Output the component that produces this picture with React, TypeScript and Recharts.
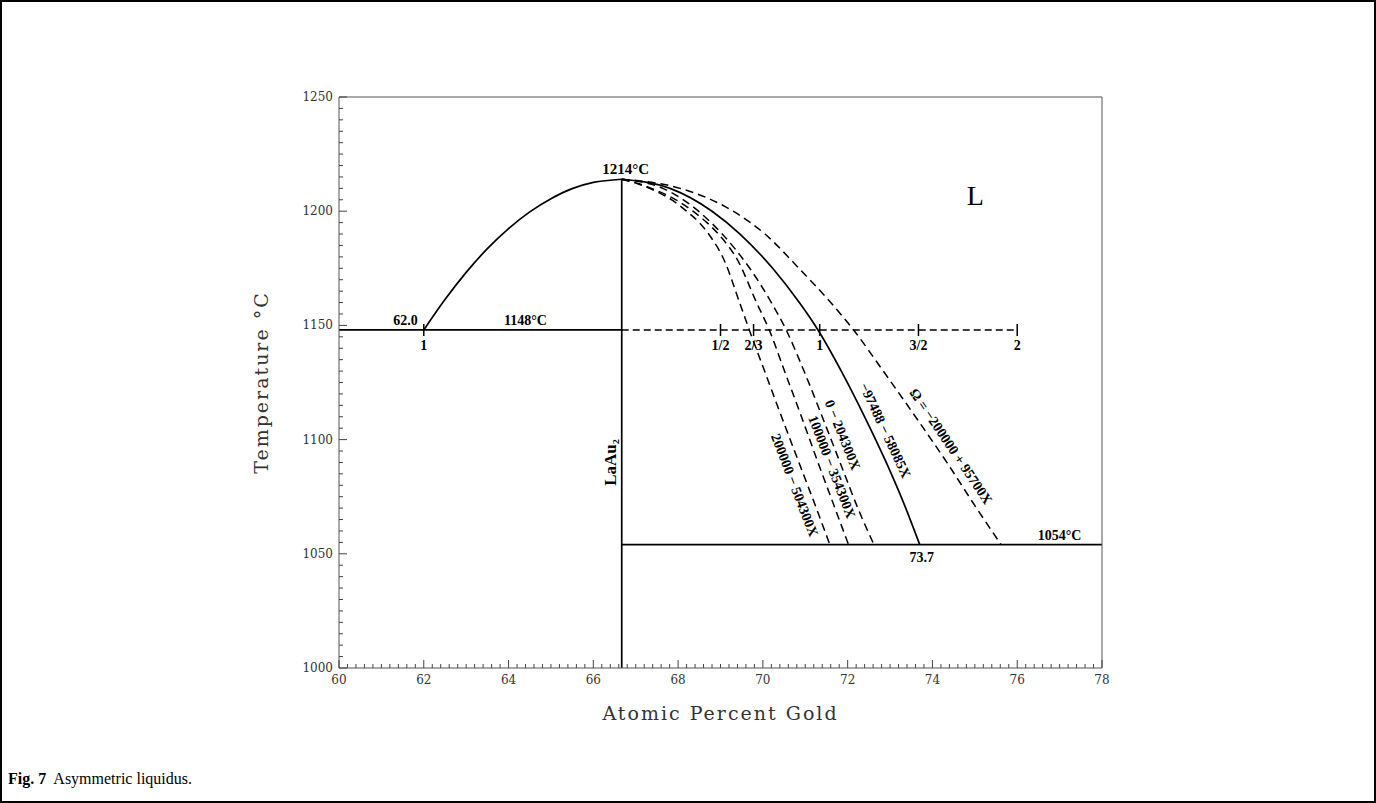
import { ComposedChart, Line, XAxis, YAxis, ReferenceDot } from 'recharts';

// axis labels
const xMajor = [60, 62, 64, 66, 68, 70, 72, 74, 76, 78];
const yMajor = [1000, 1050, 1100, 1150, 1200, 1250];

// liquidus on the La-rich side of LaAu2
const leftLiquidus = [
  { x: 62.0, t: 1148 }, { x: 62.5, t: 1161.3 }, { x: 63.0, t: 1173.2 }, { x: 63.5, t: 1183.6 },
  { x: 64.0, t: 1192.4 }, { x: 64.5, t: 1199.7 }, { x: 65.0, t: 1205.5 }, { x: 65.5, t: 1209.9 },
  { x: 66.0, t: 1212.6 }, { x: 66.67, t: 1214 },
];

// Au-rich side, assessed curve
const solidRight = [
  { x: 66.67, t: 1214 }, { x: 67.81, t: 1210 }, { x: 68.8, t: 1200 }, { x: 69.46, t: 1190 },
  { x: 70.23, t: 1175 }, { x: 70.86, t: 1160 }, { x: 71.3, t: 1148 }, { x: 71.85, t: 1130 },
  { x: 72.4, t: 1110 }, { x: 72.91, t: 1090 }, { x: 73.37, t: 1070 }, { x: 73.7, t: 1054 },
];

// trial interaction parameters
const dashA = [
  { x: 66.67, t: 1214 }, { x: 67.05, t: 1212 }, { x: 67.45, t: 1209 }, { x: 67.85, t: 1205 },
  { x: 68.2, t: 1200 }, { x: 68.5, t: 1195 }, { x: 68.72, t: 1190 }, { x: 69.1, t: 1178 },
  { x: 69.45, t: 1160 }, { x: 69.68, t: 1148 }, { x: 70.04, t: 1130 }, { x: 70.44, t: 1110 },
  { x: 70.85, t: 1090 }, { x: 71.26, t: 1070 }, { x: 71.58, t: 1054 },
];
const dashB = [
  { x: 66.67, t: 1214 }, { x: 67.08, t: 1212 }, { x: 67.5, t: 1209 }, { x: 67.95, t: 1205 },
  { x: 68.35, t: 1200 }, { x: 68.68, t: 1195 }, { x: 68.95, t: 1190 }, { x: 69.42, t: 1178 },
  { x: 69.85, t: 1160 }, { x: 70.15, t: 1148 }, { x: 70.51, t: 1130 }, { x: 70.91, t: 1110 },
  { x: 71.3, t: 1090 }, { x: 71.7, t: 1070 }, { x: 72.02, t: 1054 },
];
const dashC = [
  { x: 66.67, t: 1214 }, { x: 67.64, t: 1210 }, { x: 68.48, t: 1200 }, { x: 69.04, t: 1190 },
  { x: 69.69, t: 1175 }, { x: 70.2, t: 1160 }, { x: 70.55, t: 1148 }, { x: 70.97, t: 1130 },
  { x: 71.4, t: 1110 }, { x: 71.82, t: 1090 }, { x: 72.24, t: 1070 }, { x: 72.62, t: 1054 },
];
const dashD = [
  { x: 66.67, t: 1214 }, { x: 68.05, t: 1210 }, { x: 69.3, t: 1200 }, { x: 70.05, t: 1190 },
  { x: 70.85, t: 1175 }, { x: 71.6, t: 1160 }, { x: 72.14, t: 1148 }, { x: 72.84, t: 1130 },
  { x: 73.6, t: 1110 }, { x: 74.34, t: 1090 }, { x: 75.04, t: 1070 }, { x: 75.62, t: 1054 },
];

// invariant lines
const eutecticLeft = [{ x: 60, t: 1148 }, { x: 66.67, t: 1148 }];
const eutecticRight = [{ x: 66.67, t: 1148 }, { x: 76, t: 1148 }];
const eutecticAu = [{ x: 66.67, t: 1054 }, { x: 78, t: 1054 }];
const compound = [{ x: 66.67, t: 1000 }, { x: 66.67, t: 1214 }];

// ratio marks along 1148 °C
const ratioMarks = [
  { x: 69.0, label: '1/2' }, { x: 69.78, label: '2/3' }, { x: 71.34, label: '1' },
  { x: 73.67, label: '3/2' }, { x: 76.0, label: '2' },
];

// Ω expressions, anchored on their curve; dx shifts the text sideways in px
const curveLabels = [
  { x: 71.05, t: 1080, dx: -13, angle: 69, text: '200000 − 504300X' },
  { x: 71.34, t: 1088, dx: 12, angle: 69, text: '100000 − 354300X' },
  { x: 71.57, t: 1102, dx: 13, angle: 68, text: '0 − 204300X' },
  { x: 72.55, t: 1104, dx: 14, angle: 65, text: '−97488 − 58085X' },
  { x: 74.08, t: 1097, dx: 15, angle: 56, text: 'Ω = −200000 + 95700X' },
];

const xMinor: number[] = [];
for (let v = 60; v <= 78.001; v += 0.2) xMinor.push(Math.round(v * 10) / 10);
const yMinor: number[] = [];
for (let v = 1000; v <= 1250; v += 5) yMinor.push(v);

const tickFont = "'DejaVu Serif', serif";
const markFont = "'Liberation Serif', serif";

const isMajorX = (v: number) => xMajor.some((m) => Math.abs(m - v) < 1e-6);
const isMajorY = (v: number) => yMajor.includes(v);

function BottomTick(props: any) {
  const { x, y, payload } = props;
  const major = isMajorX(payload.value);
  return (
    <g>
      <line x1={x} x2={x} y1={y} y2={y - (major ? 8 : 4)} stroke="#444" strokeWidth={1} />
      {major && (
        <text x={x} y={y + 16} textAnchor="middle" fontFamily={tickFont} fontSize={12} fill="#333">
          {payload.value}
        </text>
      )}
    </g>
  );
}

function TopTick(props: any) {
  const { x, y, payload } = props;
  const major = isMajorX(payload.value);
  return <line x1={x} x2={x} y1={y} y2={y + (major ? 8 : 4)} stroke="#444" strokeWidth={1} />;
}

function LeftTick(props: any) {
  const { x, y, payload } = props;
  const major = isMajorY(payload.value);
  return (
    <g>
      <line x1={x} x2={x + (major ? 8 : 4)} y1={y} y2={y} stroke="#444" strokeWidth={1} />
      {major && (
        <text x={x - 6} y={y + 4} textAnchor="end" fontFamily={tickFont} fontSize={12} fill="#333">
          {payload.value}
        </text>
      )}
    </g>
  );
}

function RightTick(props: any) {
  const { x, y, payload } = props;
  const major = isMajorY(payload.value);
  return <line x1={x} x2={x - (major ? 8 : 4)} y1={y} y2={y} stroke="#444" strokeWidth={1} />;
}

function MarkCross(props: any) {
  const { cx, cy, payload } = props;
  return (
    <g>
      <line x1={cx} x2={cx} y1={cy - 6} y2={cy + 6} stroke="#000" strokeWidth={1.5} />
      <text x={cx} y={cy + 20} textAnchor="middle" fontFamily={markFont} fontSize={14} fontWeight="bold">
        {payload}
      </text>
    </g>
  );
}

function textAt(text: string, dx: number, dy: number, anchor: string, size = 14, angle = 0, central = false) {
  return (props: any) => {
    const { cx, cy } = props;
    const tx = cx + dx;
    const ty = cy + dy;
    return (
      <text
        x={tx}
        y={ty}
        textAnchor={anchor}
        dominantBaseline={central ? 'central' : undefined}
        fontFamily={markFont}
        fontSize={size}
        fontWeight="bold"
        fill="#000"
        transform={angle ? `rotate(${angle} ${tx} ${ty})` : undefined}
      >
        {text}
      </text>
    );
  };
}

const lineProps = {
  type: 'linear' as const,
  dataKey: 't',
  stroke: '#000',
  strokeWidth: 1.7,
  dot: false,
  activeDot: false,
  isAnimationActive: false,
};

export default function App() {
  return (
    <div style={{ position: 'absolute', left: 0, top: 0, width: 1376, height: 803, background: '#fff' }}>
      <div style={{ position: 'absolute', left: 0, top: 0, width: 1372, height: 799, border: '2px solid #000' }} />
      <ComposedChart
        width={1376}
        height={803}
        margin={{ top: 87, right: 264, bottom: 95, left: 279 }}
        style={{ position: 'absolute', left: 0, top: 0 }}
      >
        <XAxis
          xAxisId="b"
          dataKey="x"
          type="number"
          domain={[60, 78]}
          ticks={xMinor}
          interval={0}
          tickSize={0}
          tickMargin={0}
          tick={<BottomTick />}
          axisLine={{ stroke: '#555' }}
          height={40}
          label={{
            value: 'Atomic Percent Gold',
            position: 'insideBottom',
            offset: -12,
            style: { fontFamily: tickFont, fontSize: 19, letterSpacing: 2, fill: '#333' },
          }}
        />
        <XAxis
          xAxisId="t"
          orientation="top"
          type="number"
          domain={[60, 78]}
          ticks={xMinor}
          interval={0}
          tickSize={0}
          tickMargin={0}
          tick={<TopTick />}
          axisLine={{ stroke: '#555' }}
          height={10}
        />
        <YAxis
          yAxisId="l"
          type="number"
          domain={[1000, 1250]}
          ticks={yMinor}
          interval={0}
          tickSize={0}
          tickMargin={0}
          tick={<LeftTick />}
          axisLine={{ stroke: '#555' }}
          width={60}
          label={{
            value: 'Temperature °C',
            angle: -90,
            position: 'insideLeft',
            offset: -18,
            style: { fontFamily: tickFont, fontSize: 19, letterSpacing: 2, fill: '#333', textAnchor: 'middle' },
          }}
        />
        <YAxis
          yAxisId="r"
          orientation="right"
          type="number"
          domain={[1000, 1250]}
          ticks={yMinor}
          interval={0}
          tickSize={0}
          tickMargin={0}
          tick={<RightTick />}
          axisLine={{ stroke: '#555' }}
          width={10}
        />

        <Line {...lineProps} xAxisId="b" yAxisId="l" data={leftLiquidus} type="monotone" />
        <Line {...lineProps} xAxisId="b" yAxisId="l" data={solidRight} type="monotone" />
        <Line {...lineProps} xAxisId="b" yAxisId="l" data={dashA} type="monotone" strokeDasharray="8 5" strokeWidth={1.5} />
        <Line {...lineProps} xAxisId="b" yAxisId="l" data={dashB} type="monotone" strokeDasharray="8 5" strokeWidth={1.5} />
        <Line {...lineProps} xAxisId="b" yAxisId="l" data={dashC} type="monotone" strokeDasharray="8 5" strokeWidth={1.5} />
        <Line {...lineProps} xAxisId="b" yAxisId="l" data={dashD} type="monotone" strokeDasharray="8 5" strokeWidth={1.5} />
        <Line {...lineProps} xAxisId="b" yAxisId="l" data={eutecticLeft} />
        <Line {...lineProps} xAxisId="b" yAxisId="l" data={eutecticRight} strokeDasharray="7 4" strokeWidth={1.5} />
        <Line {...lineProps} xAxisId="b" yAxisId="l" data={eutecticAu} />
        <Line {...lineProps} xAxisId="b" yAxisId="l" data={compound} />

        {ratioMarks.map((m) => (
          <ReferenceDot
            key={m.label}
            xAxisId="b"
            yAxisId="l"
            x={m.x}
            y={1148}
            r={0}
            shape={(p: any) => <MarkCross {...p} payload={m.label} />}
          />
        ))}
        <ReferenceDot xAxisId="b" yAxisId="l" x={62.0} y={1148} r={0}
          shape={(p: any) => <MarkCross {...p} payload="1" />} />

        <ReferenceDot xAxisId="b" yAxisId="l" x={66.67} y={1214} r={0} shape={textAt('1214°C', 4, -5, 'middle', 15)} />
        <ReferenceDot xAxisId="b" yAxisId="l" x={62.0} y={1148} r={0} shape={textAt('62.0', -6, -5, 'end', 14)} />
        <ReferenceDot xAxisId="b" yAxisId="l" x={64.4} y={1148} r={0} shape={textAt('1148°C', 0, -5, 'middle', 14)} />
        <ReferenceDot xAxisId="b" yAxisId="l" x={73.7} y={1054} r={0} shape={textAt('73.7', 2, 17, 'middle', 14)} />
        <ReferenceDot xAxisId="b" yAxisId="l" x={77.0} y={1054} r={0} shape={textAt('1054°C', 0, -5, 'middle', 14)} />
        <ReferenceDot xAxisId="b" yAxisId="l" x={66.67} y={1090} r={0} shape={textAt('LaAu₂', -6, 0, 'middle', 17, -90)} />

        {curveLabels.map((c) => (
          <ReferenceDot
            key={c.text}
            xAxisId="b"
            yAxisId="l"
            x={c.x}
            y={c.t}
            r={0}
            shape={textAt(c.text, c.dx, 0, 'middle', 14, c.angle, true)}
          />
        ))}

        <ReferenceDot xAxisId="b" yAxisId="l" x={74.81} y={1202.7} r={0}
          shape={(p: any) => (
            <text x={p.cx} y={p.cy} fontFamily={markFont} fontSize={28} fill="#000">L</text>
          )} />
      </ComposedChart>
      <div
        style={{
          position: 'absolute',
          left: 8,
          top: 770,
          fontFamily: "'Liberation Serif', serif",
          fontSize: 16,
          color: '#000',
        }}
      >
        <b>Fig. 7</b>&nbsp; Asymmetric liquidus.
      </div>
    </div>
  );
}
